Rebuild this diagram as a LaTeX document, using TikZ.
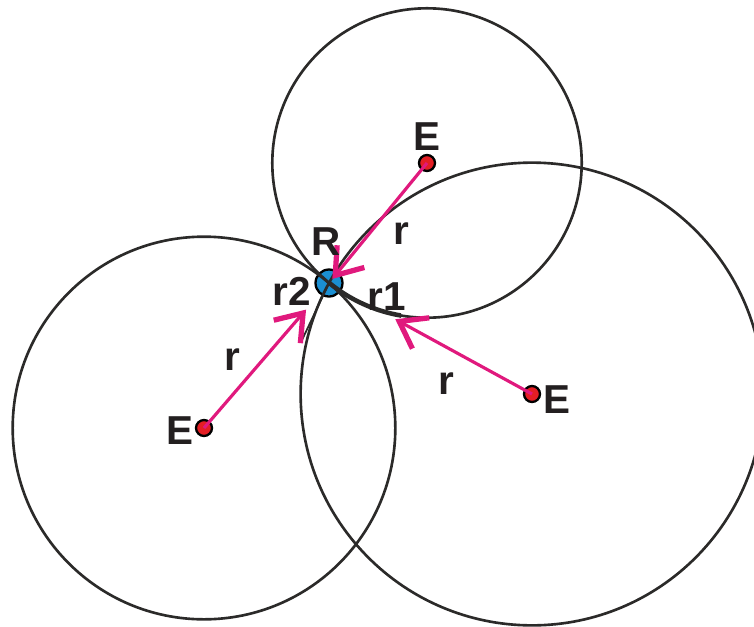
\documentclass[tikz,border=0pt]{standalone}
\usepackage{fontspec}
\setmainfont{Liberation Sans}
\usetikzlibrary{arrows.meta,calc}
\definecolor{ringgray}{HTML}{2B2A29}
\definecolor{raypink}{HTML}{E0197D}
\definecolor{dotred}{HTML}{E31E24}
\definecolor{dotblue}{HTML}{1B8FD2}
\definecolor{txtgray}{HTML}{231F20}
\begin{document}
\begin{tikzpicture}[x = .02cm, y = -.02cm,
    ring/.style = {draw = ringgray, line width = 1.5pt},
    ray/.style = {draw = raypink, line width = 1.8pt,
      -{Straight Barb[length = 14pt, width = 20pt, line width = 3pt]}},
    sender/.style = {circle, fill = dotred, draw = black, line width = 1.3pt,
      inner sep = 0pt, minimum size = .32cm},
    lbl/.style = {inner sep = 0pt, text = txtgray,
      font = \fontsize{23}{27}\selectfont\bfseries}]
      \useasboundingbox (0,0) rectangle (754,626);
      \node [circle, fill = dotblue, draw = black, line width = 1.3pt,
             inner sep = 0pt, minimum size = .54cm] (R) at (329,283) {};
      \node [sender] (e1) at (427,163) {};
      \node [sender] (e2) at (204,428) {};
      \node [sender] (e3) at (532,394) {};
      \foreach \e in {e1, e2, e3}
        \draw [ring] let \p1 = ($(R.center) - (\e.center)$),
          \n1 = {veclen(\x1,\y1)} in (\e.center) circle (\n1);
      \begin{scope}
        \clip (329,270) rectangle (401,335);
        \draw [ring, line width = 2.6pt] let \p1 = ($(R.center) - (e1.center)$),
          \n1 = {veclen(\x1,\y1)} in (e1.center) circle (\n1);
      \end{scope}
      \coordinate (r2end) at (302,340);
      \draw [ring, line width = 1pt] (R.center) -- (r2end);
      \draw [ray, shorten > = 3pt] (e1.center) -- (R.center);
      \draw [ray, shorten > = 20pt] (e2.center) -- (R.center);
      \draw [ray, shorten > = 43pt] (e3.center) -- (R.center);
      \node [lbl] (te1) at (427,137) {E};
      \node [lbl] (te2) at (180,431) {E};
      \node [lbl] (te3) at (557,400) {E};
      \node [lbl] (tR) at (326,242) {R};
      \node [lbl] (tr1) at (401,234) {r};
      \node [lbl] (tr2) at (232,360) {r};
      \node [lbl] (tr3) at (446,384) {r};
      \node [lbl] (tri) at (387,297) {r1};
      \node [lbl] (trii) at (292,291) {r2};
\end{tikzpicture}
\end{document}
